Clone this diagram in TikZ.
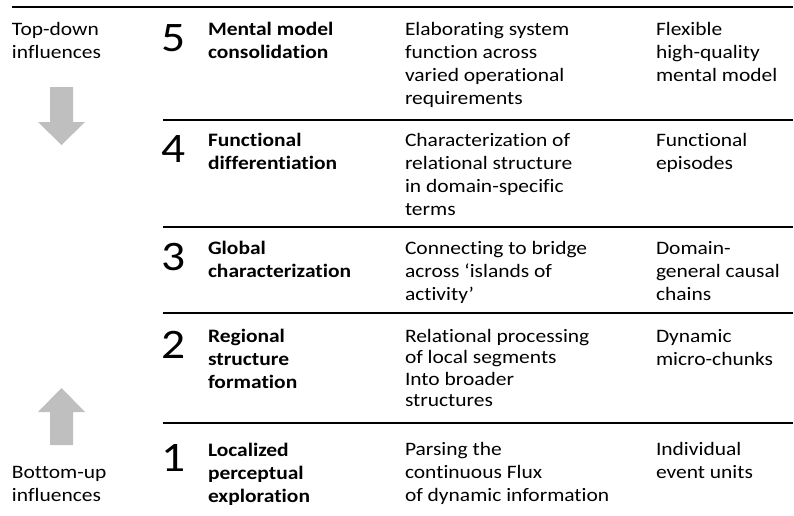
\documentclass[tikz,border=0pt]{standalone}
\usepackage{fontspec}
\setmainfont{Carlito}[Ligatures={NoCommon}, FakeStretch=1.13]
\begin{document}
\begin{tikzpicture}[x=1pt,y=-1pt,
  txt/.style={anchor=north west, inner sep=0pt, outer sep=0pt, align=left, yshift=16pt,
              font=\fontsize{19}{22.8}\selectfont},
  head/.style={txt, font=\fontsize{19}{22.8}\selectfont\bfseries},
  num/.style={anchor=base west, inner sep=0pt, outer sep=0pt, font=\fontsize{42}{46}\selectfont},
  rule/.style={line width=2pt, line cap=butt},
  flow/.style={fill=black!25, draw=none}]
\useasboundingbox (0,0) rectangle (794,515);

% horizontal rules
\coordinate (t0) at (12,7);   \coordinate (t1) at (793,7);
\draw[rule] (t0) -- (t1);
\foreach \yy/\nm in {120/a, 227/b, 313/c, 423/d} {
  \coordinate (\nm0) at (163,\yy); \coordinate (\nm1) at (793,\yy);
  \draw[rule] (\nm0) -- (\nm1);
}

% influence labels and arrows
\node[txt] (td) at (12,36) {\strut Top-down\\influences};
\node[txt] (bu) at (12,479) {\strut Bottom-up\\influences};
\fill[flow] (50,87) -- (73,87) -- (73,122) -- (85,122) -- (61.5,145) -- (38,122) -- (50,122) -- cycle;
\fill[flow] (61.5,388) -- (85,412) -- (73,412) -- (73,445) -- (50,445) -- (50,412) -- (38,412) -- cycle;

% level 5
\node[num] (n5) at (161,51) {5};
\node[head] (h5) at (208,36) {\strut Mental model\\consolidation};
\node[txt] (p5) at (405,36) {\strut Elaborating system\\function across\\varied operational\\requirements};
\node[txt] (o5) at (656,36) {\strut Flexible\\high-quality\\mental model};

% level 4
\node[num] (n4) at (161,162) {4};
\node[head] (h4) at (208,147) {\strut Functional\\differentiation};
\node[txt] (p4) at (405,147) {\strut Characterization of\\relational structure\\in domain-specific\\terms};
\node[txt] (o4) at (656,147) {\strut Functional\\episodes};

% level 3
\node[num] (n3) at (161,270) {3};
\node[head] (h3) at (208,255) {\strut Global\\characterization};
\node[txt] (p3) at (405,255) {\strut Connecting to bridge\\across ‘islands of\\activity’};
\node[txt] (o3) at (656,255) {\strut Domain-\\general causal\\chains};

% level 2
\node[num] (n2) at (161,358) {2};
\node[head] (h2) at (208,343) {\strut Regional\\structure\\formation};
\node[txt, font=\fontsize{19}{21.5}\selectfont] (p2) at (405,343) {\strut Relational processing\\of local segments\\Into broader\\structures};
\node[txt] (o2) at (656,343) {\strut Dynamic\\micro-chunks};

% level 1
\node[num] (n1) at (161,471) {1};
\node[head] (h1) at (208,457) {\strut Localized\\perceptual\\exploration};
\node[txt] (p1) at (405,456) {\strut Parsing the\\continuous Flux\\of dynamic information};
\node[txt] (o1) at (656,456) {\strut Individual\\event units};
\end{tikzpicture}
\end{document}
